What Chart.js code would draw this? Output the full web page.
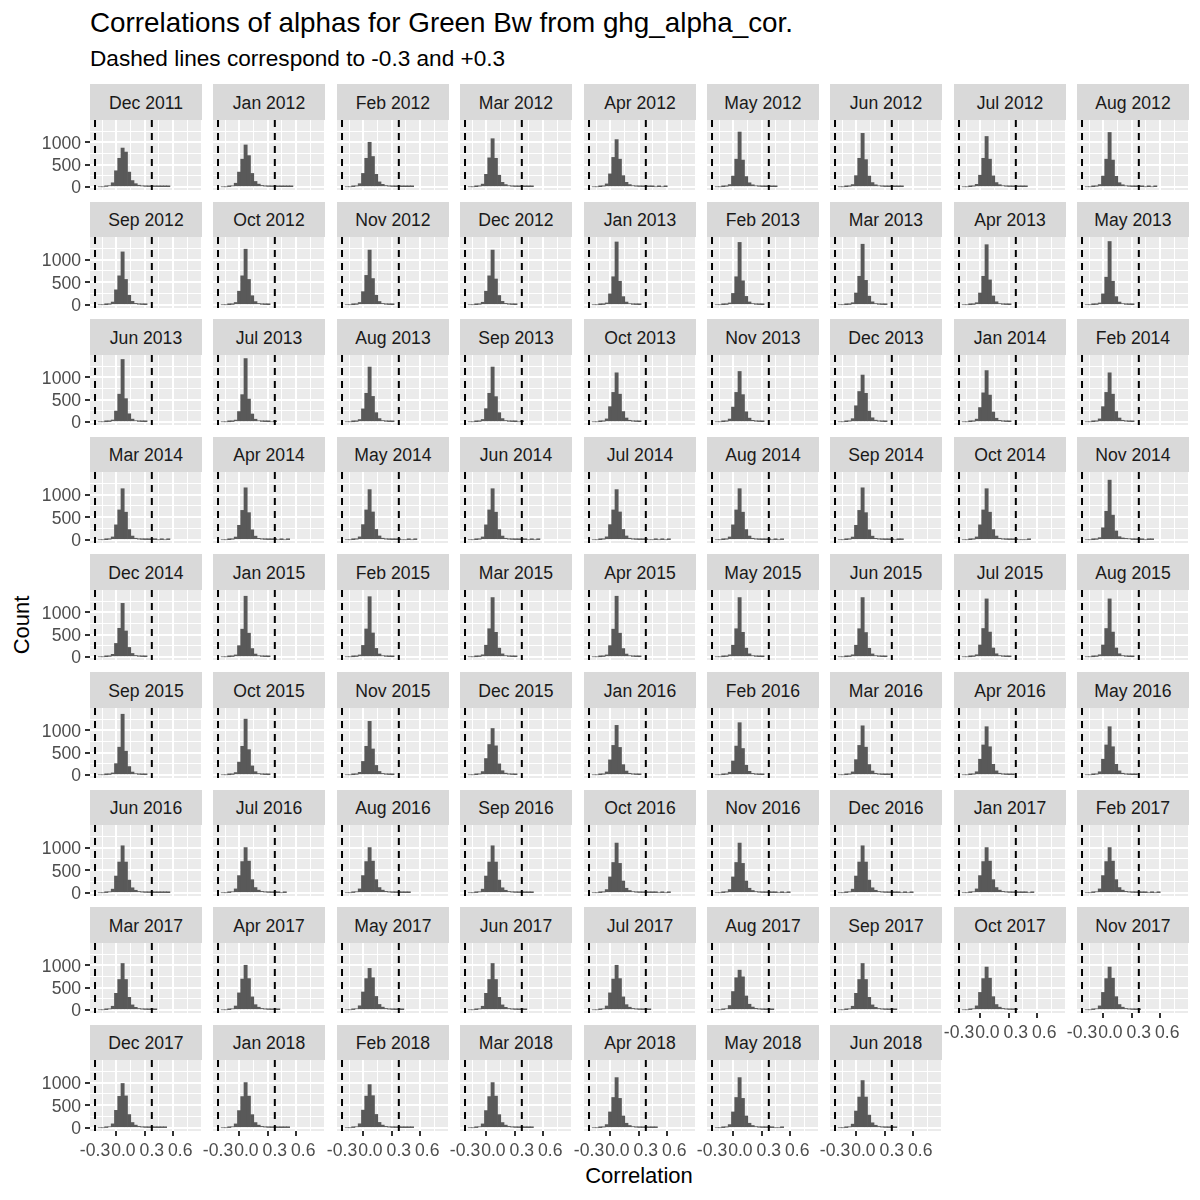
<!DOCTYPE html>
<html>
<head>
<meta charset="utf-8">
<script src="https://cdn.jsdelivr.net/npm/chart.js@4.4.1/dist/chart.umd.min.js"></script>
<style>
  html, body { margin: 0; padding: 0; background: #FFFFFF; }
  #root { position: relative; width: 1200px; height: 1200px; overflow: hidden; font-family: "Liberation Sans", Arial, sans-serif; }
  .abs { position: absolute; }
  .strip { position: absolute; background: #D9D9D9; color: #1A1A1A; font-size: 17.6px; display: flex; align-items: center; justify-content: center; white-space: nowrap; box-sizing: border-box; padding-top: 2px; }
  canvas { position: absolute; }
</style>
</head>
<body>
<div id="root"></div>
<script>
// ---------------- DATA ----------------
const TITLE = "Correlations of alphas for Green Bw from ghg_alpha_cor.";
const SUBTITLE = "Dashed lines correspond to -0.3 and +0.3";
const X_TITLE = "Correlation";
const Y_TITLE = "Count";

const PANEL_LABELS = [
  "Dec 2011","Jan 2012","Feb 2012","Mar 2012","Apr 2012","May 2012","Jun 2012","Jul 2012","Aug 2012",
  "Sep 2012","Oct 2012","Nov 2012","Dec 2012","Jan 2013","Feb 2013","Mar 2013","Apr 2013","May 2013",
  "Jun 2013","Jul 2013","Aug 2013","Sep 2013","Oct 2013","Nov 2013","Dec 2013","Jan 2014","Feb 2014",
  "Mar 2014","Apr 2014","May 2014","Jun 2014","Jul 2014","Aug 2014","Sep 2014","Oct 2014","Nov 2014",
  "Dec 2014","Jan 2015","Feb 2015","Mar 2015","Apr 2015","May 2015","Jun 2015","Jul 2015","Aug 2015",
  "Sep 2015","Oct 2015","Nov 2015","Dec 2015","Jan 2016","Feb 2016","Mar 2016","Apr 2016","May 2016",
  "Jun 2016","Jul 2016","Aug 2016","Sep 2016","Oct 2016","Nov 2016","Dec 2016","Jan 2017","Feb 2017",
  "Mar 2017","Apr 2017","May 2017","Jun 2017","Jul 2017","Aug 2017","Sep 2017","Oct 2017","Nov 2017",
  "Dec 2017","Jan 2018","Feb 2018","Mar 2018","Apr 2018","May 2018","Jun 2018"
];

// histogram bin centres (correlation)
const BIN_CENTERS = [-0.25,-0.2155,-0.181,-0.1466,-0.1121,-0.0776,-0.0431,-0.0086,0.0259,0.0603,
  0.0948,0.1293,0.1638,0.1983,0.2328,0.2672,0.3017,0.3362,0.3707,0.4052,
  0.4397,0.4741,0.5086,0.5431,0.5776,0.6121,0.6466,0.681,0.7155,0.75];

const COUNTS_ROW1 = [
  [0,0,8,25,90,360,640,870,780,330,140,70,35,18,10,6,5,5,4,3,3,2],
  [0,0,5,20,80,330,620,940,700,300,120,60,30,15,9,6,5,4,3,3,2,2],
  [0,0,4,18,70,300,640,1000,680,280,110,55,28,14,8,5,4,3,3,2,2],
  [0,0,3,15,60,280,650,1080,640,260,100,50,25,12,7,5,4,3,2,2],
  [0,0,3,15,65,290,660,1060,620,250,100,50,25,13,8,5,4,4,3,0,3,0,3],
  [0,0,2,12,50,240,620,1230,600,230,90,45,22,11,6,4,3,3,2],
  [0,0,2,12,50,250,640,1200,610,240,95,45,22,11,6,4,3,3,2,2],
  [0,0,3,14,55,260,640,1130,620,245,95,48,24,12,7,5,4,3,2,2],
  [0,0,2,12,50,240,620,1220,600,235,92,46,22,11,6,4,3,3,0,3,0,3]
];
const COUNTS_ROW2 = [
  [0,0,1,10,60,330,640,1170,560,210,75,30,12,5,2],
  [0,0,1,8,50,300,640,1230,560,200,70,28,10,4,2],
  [0,0,1,8,50,290,650,1210,580,210,72,28,11,4,2],
  [0,0,2,10,55,300,640,1210,570,205,75,30,12,5,2],
  [0,0,1,6,40,240,620,1390,520,180,60,24,9,4,2],
  [0,0,1,6,40,250,620,1380,530,185,62,25,10,4,2],
  [0,0,1,7,45,260,630,1340,540,190,65,26,10,4,2],
  [0,0,1,7,45,260,630,1330,550,195,66,26,10,4,2],
  [0,0,1,6,40,240,610,1400,520,180,60,24,9,4,2]
];
const COUNTS_ROW3 = [
  [0,0,1,6,40,240,620,1400,520,180,60,24,9,4,2],
  [0,0,1,6,38,230,610,1420,510,175,58,23,9,4,2,0,2],
  [0,0,1,8,50,290,640,1230,570,205,72,28,11,4,2],
  [0,0,2,9,52,295,640,1230,565,205,72,28,11,5,2,0,2],
  [0,0,2,12,65,340,660,1100,620,230,85,34,14,6,3],
  [0,0,2,11,62,330,660,1130,610,225,82,33,13,6,3],
  [0,0,3,14,70,360,680,1050,640,240,90,36,15,6,3],
  [0,0,2,11,60,320,650,1150,600,220,80,32,13,5,3],
  [0,0,2,12,65,340,660,1100,620,230,85,34,14,6,3]
];
const COUNTS_ROW4 = [
  [0,0,2,11,62,330,660,1130,610,225,82,33,14,7,4,3,3,3,0,3,0,3],
  [0,0,2,11,60,320,650,1150,600,220,80,32,14,7,4,3,3,0,3,0,3],
  [0,0,2,12,64,335,660,1110,615,228,84,34,14,7,4,3,3,0,0,3,0,3],
  [0,0,2,11,62,330,660,1130,610,225,82,33,14,7,4,3,3,3,0,3,0,3],
  [0,0,2,12,64,335,660,1110,615,228,84,34,14,7,4,3,3,0,0,3,0,3,0,3],
  [0,0,2,11,62,330,660,1130,610,225,82,33,14,7,4,3,3,0,3,0,3],
  [0,0,2,11,60,320,650,1150,600,220,80,32,14,7,4,3,3,0,3,3],
  [0,0,2,11,62,330,660,1130,610,225,82,33,14,7,4,3,3,0,0,0,3],
  [0,0,1,8,46,265,630,1320,545,195,68,40,30,20,6,4,3,3,0,3,3]
];
const COUNTS_ROW5 = [
  [0,0,2,10,55,300,640,1200,580,210,75,30,12,5,2],
  [0,0,1,7,42,250,620,1360,530,185,62,25,10,4,2],
  [0,0,1,7,42,255,625,1350,535,188,63,25,10,4,2],
  [0,0,1,7,45,260,630,1330,550,195,66,26,10,4,2],
  [0,0,1,7,42,250,620,1360,530,185,62,25,10,4,2],
  [0,0,1,7,45,260,630,1330,550,195,66,26,10,4,2],
  [0,0,1,7,45,260,630,1330,545,192,65,26,10,4,2],
  [0,0,1,8,46,265,635,1300,555,198,68,27,11,4,2],
  [0,0,1,8,46,265,635,1300,555,198,68,27,11,4,2]
];
const COUNTS_ROW6 = [
  [0,0,1,7,42,250,620,1360,530,185,62,25,10,4,2],
  [0,0,1,8,50,285,640,1250,565,200,70,28,11,4,2],
  [0,0,2,10,55,300,640,1200,580,210,75,30,12,5,2],
  [0,0,3,15,72,365,680,1040,650,245,92,37,15,7,3],
  [0,0,2,12,64,335,660,1110,615,228,84,34,14,6,3],
  [0,0,2,10,58,310,645,1170,590,215,78,31,12,5,3],
  [0,0,2,12,65,340,660,1100,620,230,85,34,14,6,3,2],
  [0,0,3,13,68,350,670,1080,630,235,88,35,14,6,3,2],
  [0,0,3,13,68,350,670,1080,630,235,88,35,14,6,3,2]
];
const COUNTS_ROW7 = [
  [0,0,4,18,80,370,680,1040,680,280,110,55,28,14,8,5,4,3,3,3,3,2],
  [0,0,4,20,85,380,690,1000,700,290,115,58,30,15,8,5,4,3,0,3],
  [0,0,5,20,85,380,690,1000,700,290,115,58,30,15,8,5,4,3,3,2],
  [0,0,4,18,80,370,680,1040,680,280,110,55,28,14,8,5,4,3,3,2],
  [0,0,3,15,70,350,670,1100,650,260,100,50,25,12,7,5,4,3,3,3,0,3,0,3],
  [0,0,3,15,70,350,670,1100,650,260,100,50,25,12,7,5,4,3,3,0,3,0,3],
  [0,0,4,18,80,370,680,1040,680,280,110,55,28,14,8,5,4,3,3,0,3,0,3],
  [0,0,4,20,85,380,690,1000,700,290,115,58,30,15,8,5,4,3,3,3,0,3],
  [0,0,4,20,85,380,690,1000,700,290,115,58,30,15,8,5,4,3,3,0,3,0,3]
];
const COUNTS_ROW8 = [
  [0,0,4,18,80,370,680,1040,680,280,110,55,28,14,8,5,4,3],
  [0,0,4,20,85,380,690,1000,700,290,115,58,30,15,8,5,4,3],
  [0,0,5,22,90,400,700,930,720,300,120,60,30,15,8,5,4,3],
  [0,0,4,18,80,370,680,1040,680,280,110,55,28,14,8,5,4,3],
  [0,0,4,20,85,380,690,1000,700,290,115,58,30,15,8,5,4,3],
  [0,0,6,24,95,410,720,890,740,310,125,62,32,16,9,5,4,3],
  [0,0,4,18,80,370,680,1040,680,280,110,55,28,14,8,5,4,3],
  [0,0,5,21,88,390,700,960,710,295,118,59,30,15,8,5,4],
  [0,0,5,21,88,390,700,960,710,295,118,59,30,15,8,5,4]
];
const COUNTS_ROW9 = [
  [0,0,5,20,86,385,695,980,705,292,116,58,30,15,8,5,4,3,3,3,3],
  [0,0,4,20,85,380,690,1000,700,290,115,58,30,15,8,5,4,3,3,3,3],
  [0,0,5,21,88,390,700,955,710,295,118,59,30,15,8,5,4,3,3,3,3],
  [0,0,4,20,85,380,690,1000,700,290,115,58,30,15,8,5,4,3,3,3],
  [0,0,3,15,70,350,670,1110,650,260,100,50,25,12,7,5,4,3,3,3],
  [0,0,3,15,70,350,670,1110,650,260,100,50,25,12,7,5,4,3,0,0,3],
  [0,0,4,18,80,370,680,1045,680,280,110,55,28,14,8,5,4,3]
];

const REF_LINES = [-0.3, 0.3];
const X_TICKS = [-0.3,-0.15,0,0.15,0.3,0.45,0.6,0.75];
const X_TICK_LABELS = ["-0.3","","0.0","","0.3","","0.6",""];
const Y_TICKS = [0,250,500,750,1000,1250];
const Y_TICK_LABELS = ["0","","500","","1000",""];

// ---------------- LAYOUT ----------------
const FONT = '"Liberation Sans", Arial, sans-serif';
const NCOL = 9;
const X0 = 90, PITCH_X = 123.4, PANEL_W = 112;
const Y0 = 84, PITCH_Y = 117.6, STRIP_H = 35.5, PLOT_BOTTOM_OFF = 106;
const X_MIN = -0.353, X_MAX = 0.83, Y_MIN = -72, Y_MAX = 1500;
const MARGIN_L = 60, MARGIN_B = 40;

const ALL_COUNTS = [].concat(COUNTS_ROW1, COUNTS_ROW2, COUNTS_ROW3, COUNTS_ROW4, COUNTS_ROW5,
                             COUNTS_ROW6, COUNTS_ROW7, COUNTS_ROW8, COUNTS_ROW9);

const root = document.getElementById('root');
function addText(text, css) {
  const d = document.createElement('div');
  d.className = 'abs';
  d.textContent = text;
  Object.assign(d.style, css);
  root.appendChild(d);
  return d;
}
addText(TITLE, {left: '90px', top: '9px', fontSize: '27.8px', lineHeight: '1', color: '#000', whiteSpace: 'nowrap'});
addText(SUBTITLE, {left: '90px', top: '48px', fontSize: '22.6px', lineHeight: '1', color: '#000', whiteSpace: 'nowrap'});
addText(X_TITLE, {left: '539px', width: '200px', textAlign: 'center', top: '1165px', fontSize: '22px', lineHeight: '1', color: '#000'});
addText(Y_TITLE, {left: '-78px', width: '200px', textAlign: 'center', top: '614px', fontSize: '22px', lineHeight: '1', color: '#000', transform: 'rotate(-90deg)'});

Chart.defaults.font.family = FONT;

const bgPlugin = {
  id: 'panelBg',
  beforeDraw(chart) {
    const a = chart.chartArea, c = chart.ctx;
    c.save();
    c.fillStyle = '#EBEBEB';
    c.fillRect(a.left, a.top, a.right - a.left, a.bottom - a.top);
    c.restore();
  }
};
const vlinePlugin = {
  id: 'refLines',
  afterDatasetsDraw(chart) {
    const a = chart.chartArea, c = chart.ctx, xs = chart.scales.x;
    c.save();
    c.beginPath();
    c.rect(a.left, a.top, a.right - a.left, a.bottom - a.top);
    c.clip();
    c.strokeStyle = '#000000';
    c.lineWidth = 2;
    c.setLineDash([7, 6]);
    REF_LINES.forEach(v => {
      const x = xs.getPixelForValue(v);
      c.beginPath();
      c.moveTo(x, a.top);
      c.lineTo(x, a.bottom);
      c.stroke();
    });
    c.restore();
  }
};

const N = PANEL_LABELS.length;
PANEL_LABELS.forEach((label, i) => {
  const r = Math.floor(i / NCOL), col = i % NCOL;
  const left = Math.round(X0 + col * PITCH_X);
  const stripTop = Math.round(Y0 + r * PITCH_Y);
  const plotTop = Math.round(Y0 + r * PITCH_Y + STRIP_H);
  const plotBottom = Math.round(Y0 + r * PITCH_Y + PLOT_BOTTOM_OFF);
  const plotH = plotBottom - plotTop;
  const showY = col === 0;
  const showX = i + NCOL >= N;
  const yW = showY ? MARGIN_L : 0;
  const xH = showX ? MARGIN_B : 0;
  const mL = (showX || showY) ? MARGIN_L : 0;
  const mB = showX ? MARGIN_B : (showY ? 14 : 0);

  const strip = document.createElement('div');
  strip.className = 'strip';
  strip.textContent = label;
  Object.assign(strip.style, {left: left + 'px', top: stripTop + 'px', width: PANEL_W + 'px', height: (plotTop - stripTop) + 'px'});
  root.appendChild(strip);

  const cv = document.createElement('canvas');
  cv.width = PANEL_W + mL;
  cv.height = plotH + mB;
  Object.assign(cv.style, {left: (left - mL) + 'px', top: plotTop + 'px', width: (PANEL_W + mL) + 'px', height: (plotH + mB) + 'px'});
  root.appendChild(cv);

  const counts = ALL_COUNTS[i];
  const pts = counts.map((v, k) => ({x: BIN_CENTERS[k], y: v}));

  new Chart(cv.getContext('2d'), {
    type: 'bar',
    data: {datasets: [{data: pts, backgroundColor: '#595959', borderWidth: 0, barPercentage: 1, categoryPercentage: 1}]},
    options: {
      responsive: false, animation: false, events: [],
      layout: {padding: {left: mL - yW, bottom: mB - xH, top: 0, right: 0}},
      plugins: {legend: {display: false}, tooltip: {enabled: false}, title: {display: false}},
      scales: {
        x: {
          type: 'linear', min: X_MIN, max: X_MAX, offset: false,
          border: {display: false},
          grid: {
            color: '#FFFFFF',
            lineWidth: ctx => (ctx.index % 2 === 0 ? 2 : 1),
            drawTicks: showX, tickLength: 5, tickWidth: 2,
            tickColor: ctx => (ctx.index % 2 === 0 ? '#333333' : 'rgba(0,0,0,0)')
          },
          ticks: {
            display: showX, autoSkip: false, maxRotation: 0, minRotation: 0, padding: 5,
            color: '#4D4D4D', font: {family: FONT, size: 17.6},
            callback: (v, idx) => X_TICK_LABELS[idx]
          },
          afterBuildTicks: s => { s.ticks = X_TICKS.map(v => ({value: v})); },
          afterFit: s => { s.height = xH; s.paddingLeft = 0; s.paddingRight = 0; }
        },
        y: {
          type: 'linear', min: Y_MIN, max: Y_MAX,
          border: {display: false},
          grid: {
            color: '#FFFFFF',
            lineWidth: ctx => (ctx.index % 2 === 0 ? 2 : 1),
            drawTicks: showY, tickLength: 5, tickWidth: 2,
            tickColor: ctx => (ctx.index % 2 === 0 ? '#333333' : 'rgba(0,0,0,0)')
          },
          ticks: {
            display: showY, autoSkip: false, padding: 4, labelOffset: 1.5,
            color: '#4D4D4D', font: {family: FONT, size: 17.6},
            callback: (v, idx) => Y_TICK_LABELS[idx]
          },
          afterBuildTicks: s => { s.ticks = Y_TICKS.map(v => ({value: v})); },
          afterFit: s => { s.width = yW; s.paddingTop = 0; s.paddingBottom = 0; }
        }
      }
    },
    plugins: [bgPlugin, vlinePlugin]
  });
});
</script>
</body>
</html>
